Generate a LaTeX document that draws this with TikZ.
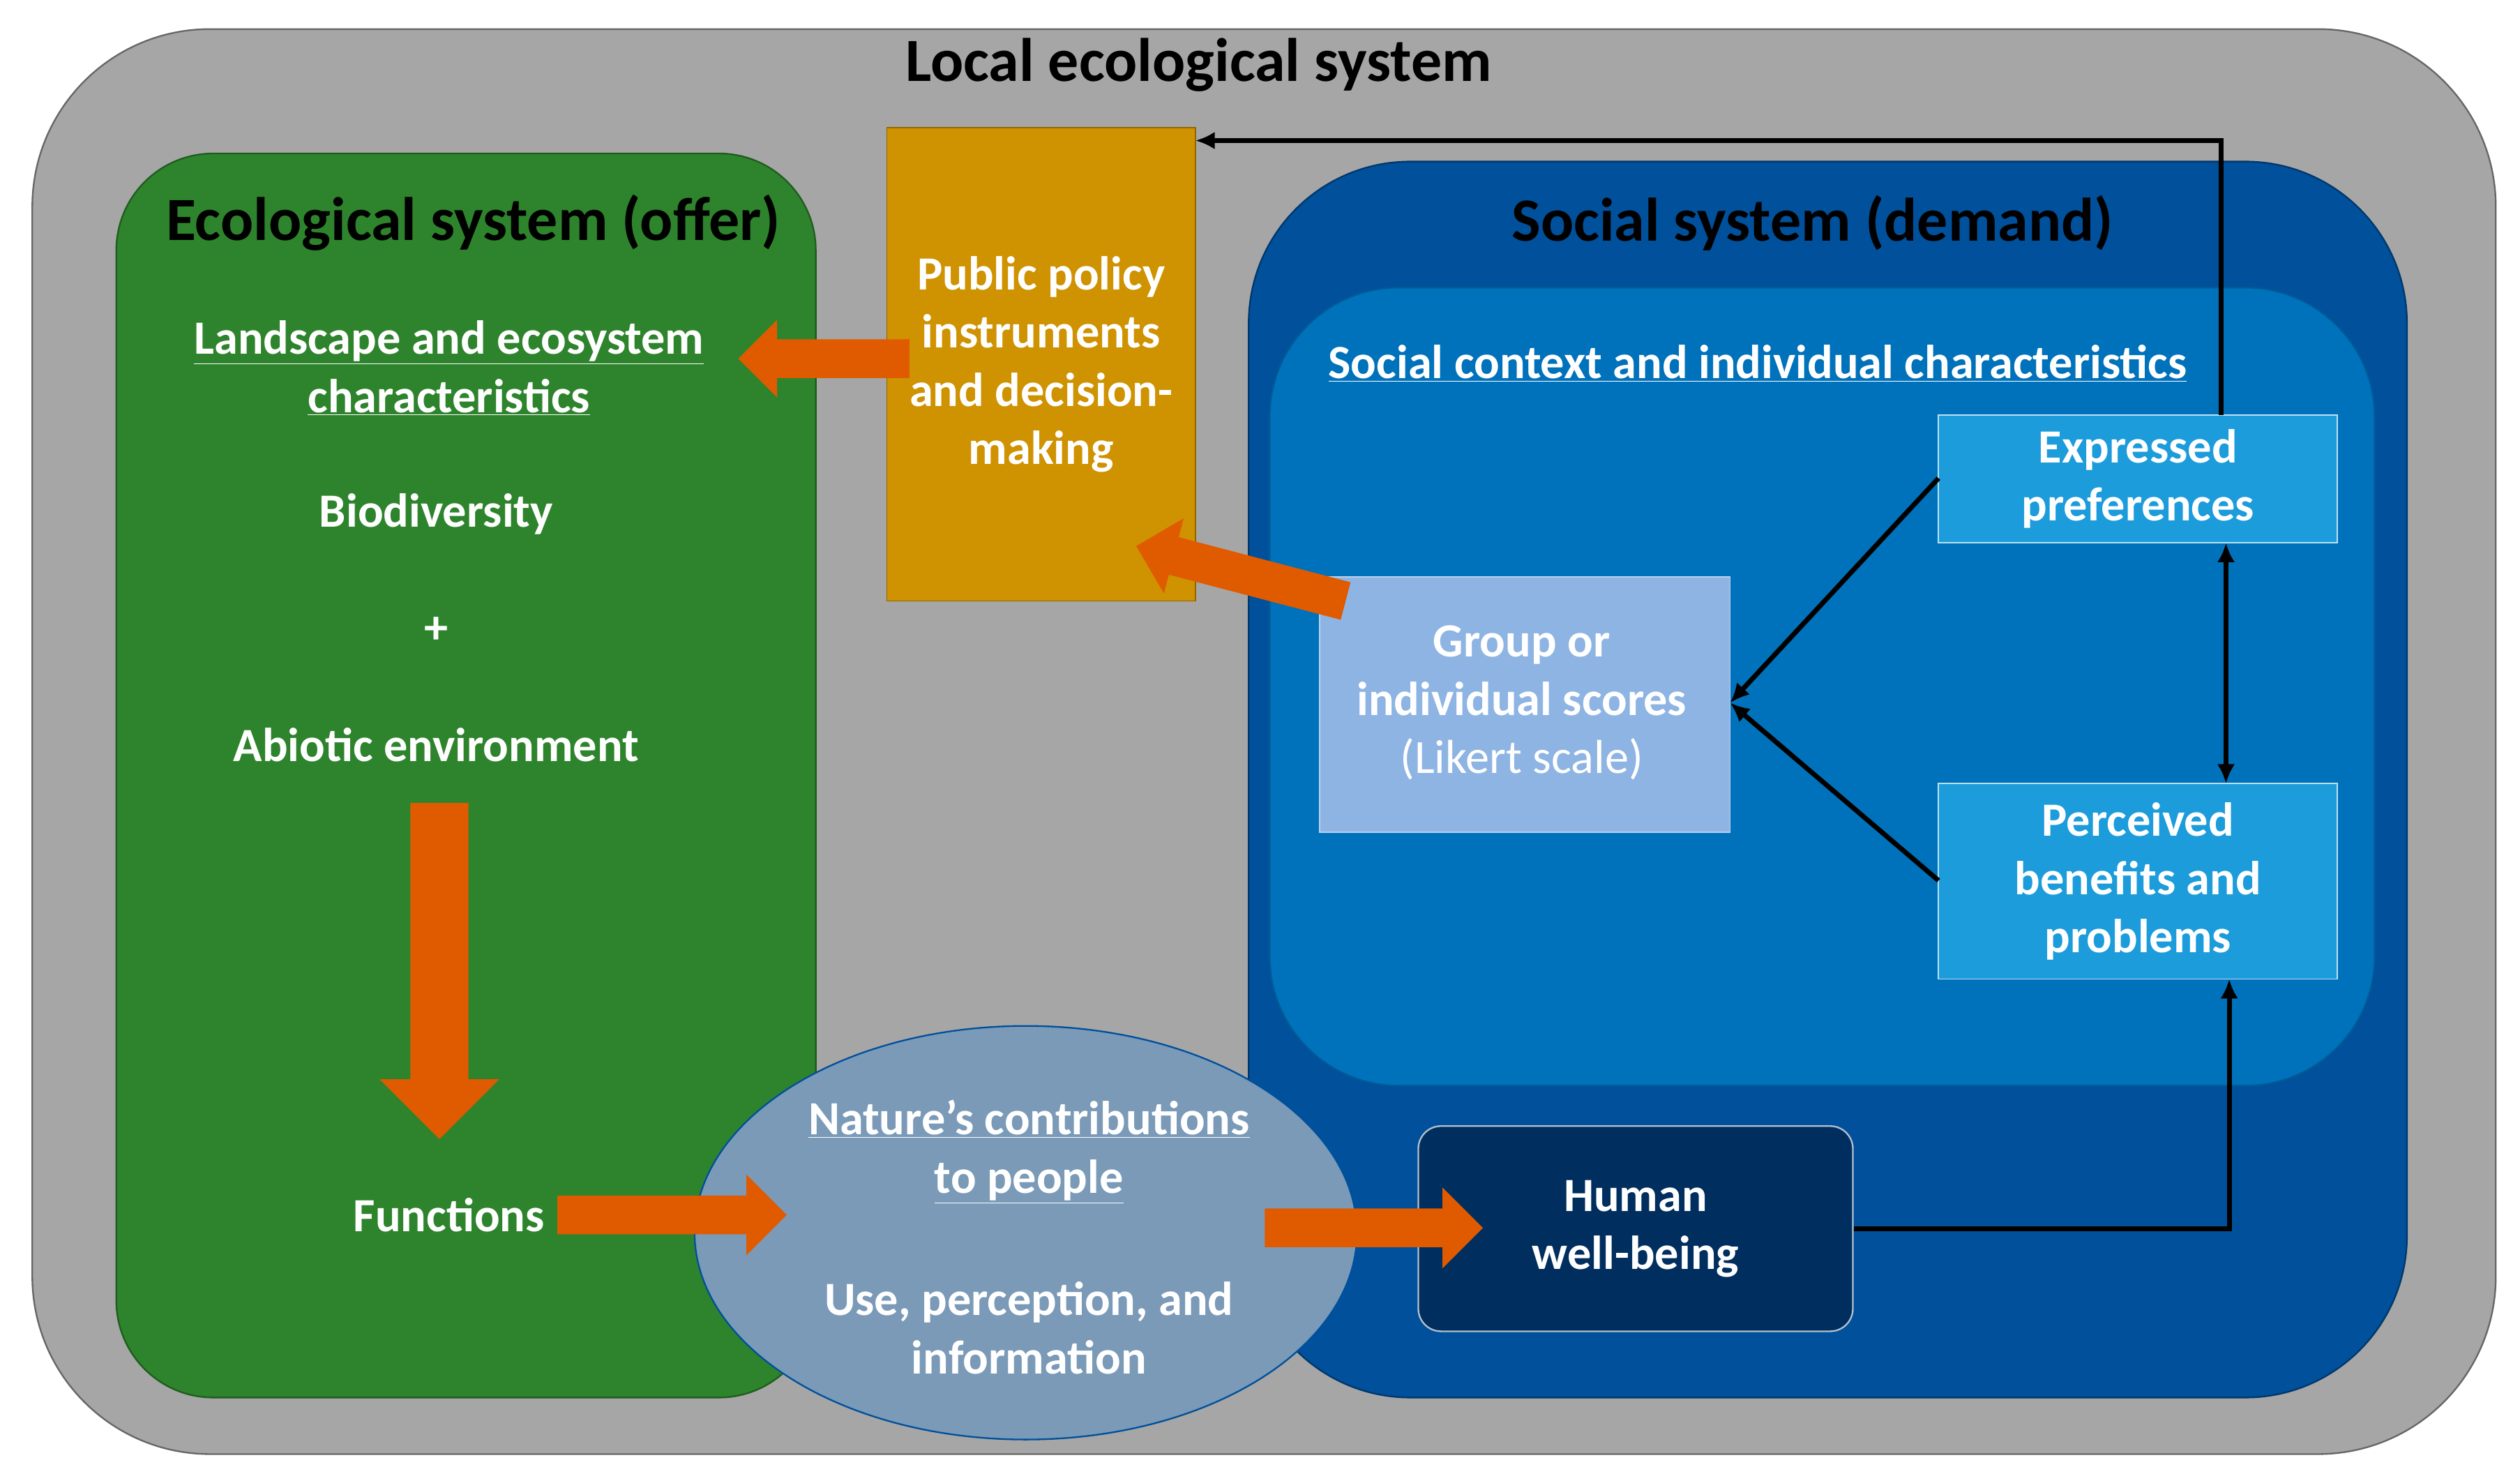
\documentclass[tikz,border=0pt]{standalone}
\usepackage{fontspec}
\setmainfont{Carlito}
\usetikzlibrary{calc,arrows.meta}
\definecolor{outerg}{HTML}{A6A6A6}
\definecolor{ecog}{HTML}{2E842C}
\definecolor{socd}{HTML}{00509B}
\definecolor{socm}{HTML}{0072BB}
\definecolor{grp}{HTML}{8EB4E3}
\definecolor{lbox}{HTML}{1C9CDB}
\definecolor{hwb}{HTML}{002E5E}
\definecolor{pol}{HTML}{CF9200}
\definecolor{ell}{HTML}{7A9AB8}
\definecolor{arr}{HTML}{E05A00}
\newcommand{\bigarr}[6]{% x,y,angle,length,shaft half,head half
  \begin{scope}[shift={(#1,#2)},rotate=#3]
  \fill[arr] (0,-#5) -- ({#4-#6*1.0},-#5) -- ({#4-#6*1.0},-#6) -- (#4,0) -- ({#4-#6*1.0},#6) -- ({#4-#6*1.0},#5) -- (0,#5) -- cycle;
  \end{scope}}
\begin{document}
\begin{tikzpicture}[x=1pt,y=-1pt,
  txt/.style={font=\fontsize{29.5}{36}\selectfont\bfseries,text=white,align=center},
  ttl/.style={font=\fontsize{38}{42}\selectfont\bfseries,text=black},
  box/.style={draw=#1!60!white,line width=0.8pt,inner sep=0pt},
  blk/.style={line width=3pt,-{Latex[length=12pt,width=11pt]}}]
\useasboundingbox (0,0) rectangle (1560,912);
\filldraw[fill=outerg,draw=gray!80!black,line width=1pt,rounded corners=110pt] (20,18) rectangle (1545,900);
\node[ttl] (t0) at (742,40) {Local ecological system};
% ecological
\filldraw[fill=ecog,draw=ecog!70!black,line width=1pt,rounded corners=60pt] (72,95) rectangle (505,865);
\node[ttl] (t1) at (293,138) {Ecological system (offer)};
\node[txt] (land) at (278,228) {\underline{Landscape and ecosystem}\\\underline{characteristics}};
\node[txt] (bio) at (270,318) {Biodiversity};
\node[txt] (plus) at (270,390) {+};
\node[txt] (abio) at (270,461) {Abiotic environment};
\node[txt] (func) at (278,752) {Functions};
% social
\filldraw[fill=socd,draw=socd!70!black,line width=1pt,rounded corners=100pt] (773,100) rectangle (1490,865);
\node[ttl] (t2) at (1122,138) {Social system (demand)};
\filldraw[fill=socm,draw=socm!80!black,line width=1pt,rounded corners=80pt] (786,178) rectangle (1470,672);
\node[txt] (ctx) at (1088,225) {\underline{Social context and individual characteristics}};
\node[box=grp,fill=grp,minimum width=254pt,minimum height=158pt] (grp) at (944,436) {};
\node[txt] at (942,435) {Group or\\individual scores\\\mdseries(Likert scale)};
\node[box=lbox,fill=lbox,draw=white!70!lbox,minimum width=247pt,minimum height=79pt,txt] (exp) at (1323.5,296.5) {Expressed\\preferences};
\node[box=lbox,fill=lbox,draw=white!70!lbox,minimum width=247pt,minimum height=121pt,txt] (per) at (1323.5,545.5) {Perceived\\benefits and\\problems};
\node[fill=hwb,draw=white!70!hwb,line width=1pt,rounded corners=14pt,minimum width=269pt,minimum height=127pt,txt] (hwb) at (1012.5,760.5) {Human\\well-being};
% policy
\node[fill=pol,draw=pol!70!black,line width=0.8pt,minimum width=191pt,minimum height=293pt,txt,inner sep=0pt] (pol) at (644.5,225.5) {Public policy\\instruments\\and decision-\\making};
% ellipse
\filldraw[fill=ell,draw=socd,line width=1pt] (635,763) ellipse (205pt and 128pt);
\node[txt] (ncp) at (637,713) {\underline{Nature’s contributions}\\\underline{to people}};
\node[txt] (use) at (637,822) {Use, perception, and\\information};
% orange arrows
\bigarr{272}{497}{-90}{208}{18}{37}
\bigarr{345}{752}{0}{142}{12}{25}
\bigarr{783}{760}{0}{135}{12}{25}
\bigarr{563}{222}{180}{106}{12}{24}
\bigarr{833}{372}{165.3}{134}{12}{24}
% black arrows
\coordinate (ei) at (1200,296);
\coordinate (pi) at (1200,545);
\coordinate (gp) at (1071,435);
\draw[blk] (ei) -- (gp);
\draw[blk] (pi) -- (gp);
\draw[line width=3pt,{Latex[length=12pt,width=11pt]}-{Latex[length=12pt,width=11pt]}] (1378,336) -- (1378,485);
\draw[blk] (hwb.east) -| (1380,606);
\draw[blk] (1375,257) -- (1375,87) -- (740,87);
\end{tikzpicture}
\end{document}
